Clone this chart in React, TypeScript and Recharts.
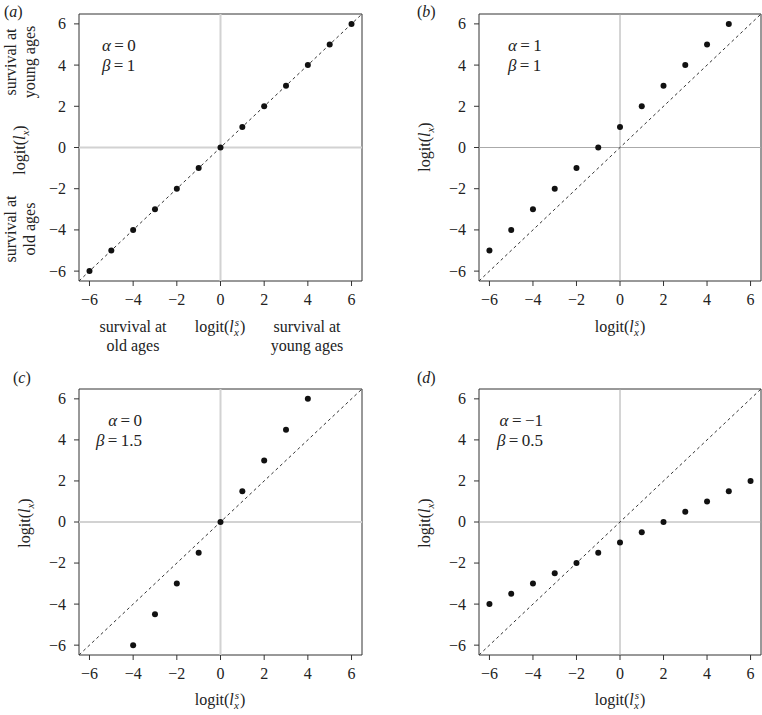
import { ScatterChart, Scatter, XAxis, YAxis, ReferenceLine, ReferenceArea } from "recharts";

// logit(l_x^s) values and the resulting logit(l_x) for each panel
const xsA = [-6, -5, -4, -3, -2, -1, 0, 1, 2, 3, 4, 5, 6];
const ysA = [-6, -5, -4, -3, -2, -1, 0, 1, 2, 3, 4, 5, 6];

const xsB = [-6, -5, -4, -3, -2, -1, 0, 1, 2, 3, 4, 5];
const ysB = [-5, -4, -3, -2, -1, 0, 1, 2, 3, 4, 5, 6];

const xsC = [-4, -3, -2, -1, 0, 1, 2, 3, 4];
const ysC = [-6, -4.5, -3, -1.5, 0, 1.5, 3, 4.5, 6];

const xsD = [-6, -5, -4, -3, -2, -1, 0, 1, 2, 3, 4, 5, 6];
const ysD = [-4, -3.5, -3, -2.5, -2, -1.5, -1, -0.5, 0, 0.5, 1, 1.5, 2];

const ticks = [-6, -4, -2, 0, 2, 4, 6];
const LO = -6.48;
const HI = 6.48;

const FONT = "'Liberation Serif', 'Times New Roman', serif";

const fmt = (v: number) => String(v).replace("-", "\u2212");

type PanelProps = {
  xs: number[];
  ys: number[];
  left: number;
  top: number;
  width: number;
  height: number;
  margin: { top: number; right: number; bottom: number; left: number };
  gridStroke: string;
  gridWidth: number;
};

const Dot = (props: any) => <circle cx={props.cx} cy={props.cy} r={3} fill="#111" />;

const XTick = (props: any) => (
  <text x={props.x} y={props.y} dy="0.71em" textAnchor="middle" fontSize={16} fontFamily={FONT} fill="#222">
    {fmt(props.payload.value)}
  </text>
);

const YTick = (props: any) => (
  <text x={props.x} y={props.y} dy="0.34em" textAnchor="end" fontSize={16} fontFamily={FONT} fill="#222">
    {fmt(props.payload.value)}
  </text>
);

function Panel({ xs, ys, left, top, width, height, margin, gridStroke, gridWidth }: PanelProps) {
  const data = xs.map((x, i) => ({ x, y: ys[i] }));
  return (
    <div style={{ position: "absolute", left, top }}>
      <ScatterChart width={width} height={height} margin={margin}>
        <XAxis
          type="number"
          dataKey="x"
          domain={[LO, HI]}
          ticks={ticks}
          allowDataOverflow
          axisLine={false}
          tickSize={5}
          tickMargin={8}
          tickLine={{ stroke: "#333" }}
          tick={XTick}
          height={30}
          interval={0}
        />
        <YAxis
          type="number"
          dataKey="y"
          domain={[LO, HI]}
          ticks={ticks}
          allowDataOverflow
          axisLine={false}
          tickSize={5}
          tickMargin={8}
          tickLine={{ stroke: "#333" }}
          tick={YTick}
          width={40}
          interval={0}
        />
        <ReferenceLine x={0} stroke={gridStroke} strokeWidth={gridWidth} />
        <ReferenceLine y={0} stroke={gridStroke} strokeWidth={gridWidth} />
        <ReferenceLine
          segment={[
            { x: LO, y: LO },
            { x: HI, y: HI },
          ]}
          stroke="#333"
          strokeDasharray="3 3"
        />
        <ReferenceArea x1={LO} x2={HI} y1={LO} y2={HI} fill="none" stroke="#333" strokeWidth={1} />
        <Scatter data={data} shape={Dot} isAnimationActive={false} />
      </ScatterChart>
    </div>
  );
}

function LogitLxs({ x, y }: { x: number; y: number }) {
  return (
    <text x={x} y={y} textAnchor="middle" fontSize={16} fontFamily={FONT} fill="#222">
      <tspan>logit(</tspan>
      <tspan fontStyle="italic">l</tspan>
      <tspan fontStyle="italic" fontSize={11} dx={1} dy={-6}>s</tspan>
      <tspan fontStyle="italic" fontSize={11} dx={-5} dy={10}>x</tspan>
      <tspan dx={1} dy={-4}>)</tspan>
    </text>
  );
}

function LogitLx({ x, y }: { x: number; y: number }) {
  return (
    <text
      x={x}
      y={y}
      textAnchor="middle"
      fontSize={16}
      fontFamily={FONT}
      fill="#222"
      transform={`rotate(-90 ${x} ${y})`}
    >
      <tspan>logit(</tspan>
      <tspan fontStyle="italic">l</tspan>
      <tspan fontStyle="italic" fontSize={11} dy={4}>x</tspan>
      <tspan dy={-4}>)</tspan>
    </text>
  );
}

function Params({ x, y, a, b, anchor }: { x: number; y: number; a: string; b: string; anchor: "start" | "end" }) {
  return (
    <g fontSize={17} fontFamily={FONT} fill="#222" textAnchor={anchor}>
      <text x={x} y={y}>
        <tspan fontStyle="italic">α</tspan>
        <tspan>{"\u2009=\u2009" + a}</tspan>
      </text>
      <text x={x} y={y + 20}>
        <tspan fontStyle="italic">β</tspan>
        <tspan>{"\u2009=\u2009" + b}</tspan>
      </text>
    </g>
  );
}

function Note({ x, y, lines, rotate }: { x: number; y: number; lines: string[]; rotate?: boolean }) {
  return (
    <text
      x={x}
      y={y}
      textAnchor="middle"
      fontSize={16}
      fontFamily={FONT}
      fill="#222"
      transform={rotate ? `rotate(-90 ${x} ${y})` : undefined}
    >
      {lines.map((l, i) => (
        <tspan key={i} x={x} dy={i === 0 ? 0 : 19}>
          {l}
        </tspan>
      ))}
    </text>
  );
}

function Tag({ x, y, letter }: { x: number; y: number; letter: string }) {
  return (
    <text x={x} y={y} fontSize={16} fontFamily={FONT} fill="#222">
      (<tspan fontStyle="italic">{letter}</tspan>)
    </text>
  );
}

export default function App() {
  return (
    <div style={{ position: "absolute", left: 0, top: 0, width: 762, height: 715, background: "#fff" }}>
      <Panel xs={xsA} ys={ysA} left={0} top={0} width={380} height={360}
        margin={{ top: 14, right: 18, bottom: 49, left: 39 }} gridStroke="#d2d2d2" gridWidth={2} />
      <Panel xs={xsB} ys={ysB} left={380} top={0} width={382} height={360}
        margin={{ top: 14, right: 1, bottom: 49, left: 59 }} gridStroke="#aaaaaa" gridWidth={1} />
      <Panel xs={xsC} ys={ysC} left={0} top={360} width={380} height={355}
        margin={{ top: 29, right: 18, bottom: 30, left: 39 }} gridStroke="#d2d2d2" gridWidth={2} />
      <Panel xs={xsD} ys={ysD} left={380} top={360} width={382} height={355}
        margin={{ top: 29, right: 1, bottom: 30, left: 59 }} gridStroke="#aaaaaa" gridWidth={1} />

      <svg width={762} height={715} style={{ position: "absolute", left: 0, top: 0, pointerEvents: "none" }}>
        <Tag x={4} y={17} letter="a" />
        <Tag x={417} y={17} letter="b" />
        <Tag x={13} y={383} letter="c" />
        <Tag x={417} y={383} letter="d" />

        <Params x={102} y={51} a="0" b="1" anchor="start" />
        <Params x={508} y={51} a="1" b="1" anchor="start" />
        <Params x={142} y={426} a="0" b="1.5" anchor="end" />
        <Params x={543} y={426} a="−1" b="0.5" anchor="end" />

        <LogitLx x={25} y={150} />
        <LogitLx x={430} y={147} />
        <LogitLx x={30} y={523} />
        <LogitLx x={430} y={523} />

        <LogitLxs x={220} y={332} />
        <LogitLxs x={620} y={332} />
        <LogitLxs x={220} y={705} />
        <LogitLxs x={620} y={705} />

        <Note x={16} y={62} lines={["survival at", "young ages"]} rotate />
        <Note x={16} y={229} lines={["survival at", "old ages"]} rotate />
        <Note x={133} y={332} lines={["survival at", "old ages"]} />
        <Note x={307} y={332} lines={["survival at", "young ages"]} />
      </svg>
    </div>
  );
}
